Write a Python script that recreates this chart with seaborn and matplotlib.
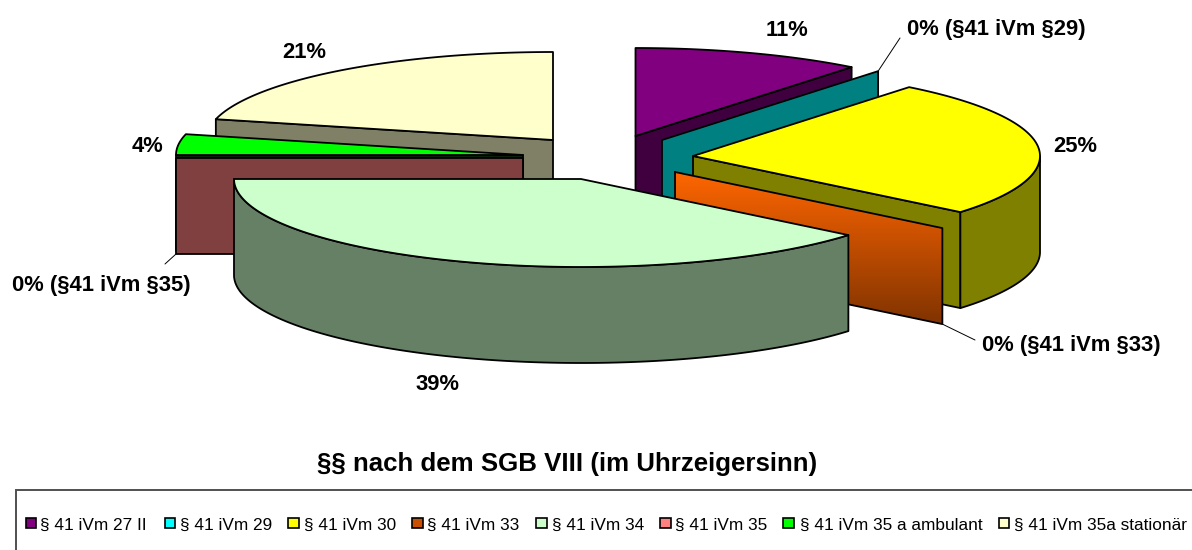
import numpy as np
import matplotlib
matplotlib.use("Agg")
import matplotlib.pyplot as plt
import seaborn as sns

# ---- data -------------------------------------------------------------
categories = ["§ 41 iVm 27 II", "§ 41 iVm 29", "§ 41 iVm 30", "§ 41 iVm 33",
              "§ 41 iVm 34", "§ 41 iVm 35", "§ 41 iVm 35 a ambulant",
              "§ 41 iVm 35a stationär"]
values = [10.7, 0, 25.3, 0, 39.0, 0, 3.8, 21.2]
label_suffix = ["", " (§41 iVm §29)", "", " (§41 iVm §33)", "", " (§41 iVm §35)", "", ""]
title_text = "§§ nach dem SGB VIII (im Uhrzeigersinn)"

# ---- styling ----------------------------------------------------------
legend_colors = ["#800080", "#00FFFF", "#FFFF00", "#C85000", "#CCFFCC", "#FF8080", "#00FF00", "#FFFFCC"]
top_colors = ["#800080", "#008080", "#FFFF00", "#FF6600", "#CCFFCC", "#804040", "#00FF00", "#FFFFCC"]
wall_colors = ["#400040", "#008080", "#808000", "#FF6600", "#668066", "#804040", "#0A200A", "#808066"]
apex_x = [635.5, 662, 693, 675, 581, 523, 523, 553]
apex_y = [136, 140, 156, 172, 179, 158, 155, 140]
label_x = [787, 996, 1075, 1071, 438, 101, 147, 304]
label_y = [31, 29, 147, 345, 385, 285, 147, 53]
leader_lines = {1: (900, 38), 3: (975, 340), 5: (165, 264)}
draw_order = [7, 6, 5, 0, 1, 2, 3, 4]
RX, RY, DEPTH = 347.0, 88.0, 96.0
LABEL_PX = 22.0

sns.set_theme(style="white")
plt.rcParams["font.family"] = ["Liberation Sans", "DejaVu Sans"]
palette = sns.color_palette(legend_colors)

fig = plt.figure(figsize=(11.92, 5.5), dpi=100, facecolor="white")
ax = fig.add_axes([0, 0, 1, 1])
ax.set_xlim(0, 1192)
ax.set_ylim(550, 0)
ax.axis("off")
px = 72 / 100


def rim(i, a):
    r = np.radians(a)
    return apex_x[i] + RX * np.sin(r), apex_y[i] - RY * np.cos(r)


def gradient_poly(xs, ys, top, bottom, z):
    c0, c1 = np.array(matplotlib.colors.to_rgb(top)), np.array(matplotlib.colors.to_rgb(bottom))
    t = np.linspace(0, 1, 128)[:, None, None]
    img = (c0 * (1 - t) + c1 * t)
    x0, x1, y0, y1 = min(xs), max(xs), min(ys), max(ys)
    im = ax.imshow(img, extent=(x0, x1, y1, y0), aspect="auto", zorder=z, interpolation="bilinear")
    patch = plt.Polygon(np.c_[xs, ys], closed=True, transform=ax.transData, fc="none", ec="none")
    ax.add_patch(patch)
    im.set_clip_path(patch)
    ax.plot(list(xs) + [xs[0]], list(ys) + [ys[0]], color="black", lw=1.3, zorder=z + 0.1)


edge = dict(edgecolor="black", linewidth=1.3, joinstyle="round")
cum = np.cumsum([0] + values)
z = 2
for i in draw_order:
    a0, a1 = 3.6 * cum[i], 3.6 * cum[i + 1]
    ax_, ay_ = apex_x[i], apex_y[i]
    if values[i] == 0:
        ox, oy = rim(i, a0)
        xs = [ax_, ox, ox, ax_]
        ys = [ay_, oy, oy + DEPTH, ay_ + DEPTH]
        if i == 3:
            gradient_poly(xs, ys, "#FF6600", "#803300", z)
        else:
            ax.fill(xs, ys, facecolor=wall_colors[i], zorder=z, **edge)
        z += 1
        continue
    # cut wall at the start or the end of the slice, whichever faces the viewer
    for ang, vis in ((a0, np.sin(np.radians(a0)) < -1e-6), (a1, np.sin(np.radians(a1)) > 1e-6)):
        if vis:
            ox, oy = rim(i, ang)
            ax.fill([ax_, ox, ox, ax_], [ay_, oy, oy + DEPTH, ay_ + DEPTH],
                    facecolor=wall_colors[i], zorder=z, **edge)
    # outer wall on the front half of the rim
    f0, f1 = max(a0, 90), min(a1, 270)
    if f1 > f0:
        arc = np.linspace(f0, f1, 160)
        rx_, ry_ = rim(i, arc)
        ax.fill(np.r_[rx_, rx_[::-1]], np.r_[ry_, ry_[::-1] + DEPTH],
                facecolor=wall_colors[i], zorder=z, **edge)
    # top face
    arc = np.linspace(a0, a1, 200)
    rx_, ry_ = rim(i, arc)
    ax.fill(np.r_[ax_, rx_], np.r_[ay_, ry_], facecolor=top_colors[i], zorder=z + 0.5, **edge)
    z += 1

# ---- labels -----------------------------------------------------------
for i, v in enumerate(values):
    ax.text(label_x[i], label_y[i], f"{round(v)}%{label_suffix[i]}", fontsize=LABEL_PX * px,
            fontweight="bold", ha="center", va="center", color="black", zorder=30)
for i, (lx, ly) in leader_lines.items():
    ox, oy = rim(i, 3.6 * cum[i])
    oy = oy + (DEPTH if i != 1 else 0)
    ax.plot([ox, lx], [oy, ly], color="black", lw=0.7, zorder=29)

ax.text(567, 463.5, title_text, fontsize=25.9 * px, fontweight="bold",
        ha="center", va="center", color="black")

# ---- legend -----------------------------------------------------------
ax.add_patch(plt.Rectangle((16, 490), 1400, 90, fc="white", ec="#505050", lw=1.4, zorder=1))
swatch_x = [25.5, 164.5, 288, 412, 536, 660, 783, 998.5]
text_x = [40.5, 180, 303.5, 427, 552, 675, 800, 1014]
for i, name in enumerate(categories):
    ax.add_patch(plt.Rectangle((swatch_x[i], 517.5), 10.5, 10.5, fc=palette[i], ec="black", lw=1.2, zorder=3))
    ax.text(text_x[i], 525, name, fontsize=17.2 * px, ha="left", va="center", color="black", zorder=3)

fig.savefig("out.png", dpi=100, facecolor="white")
